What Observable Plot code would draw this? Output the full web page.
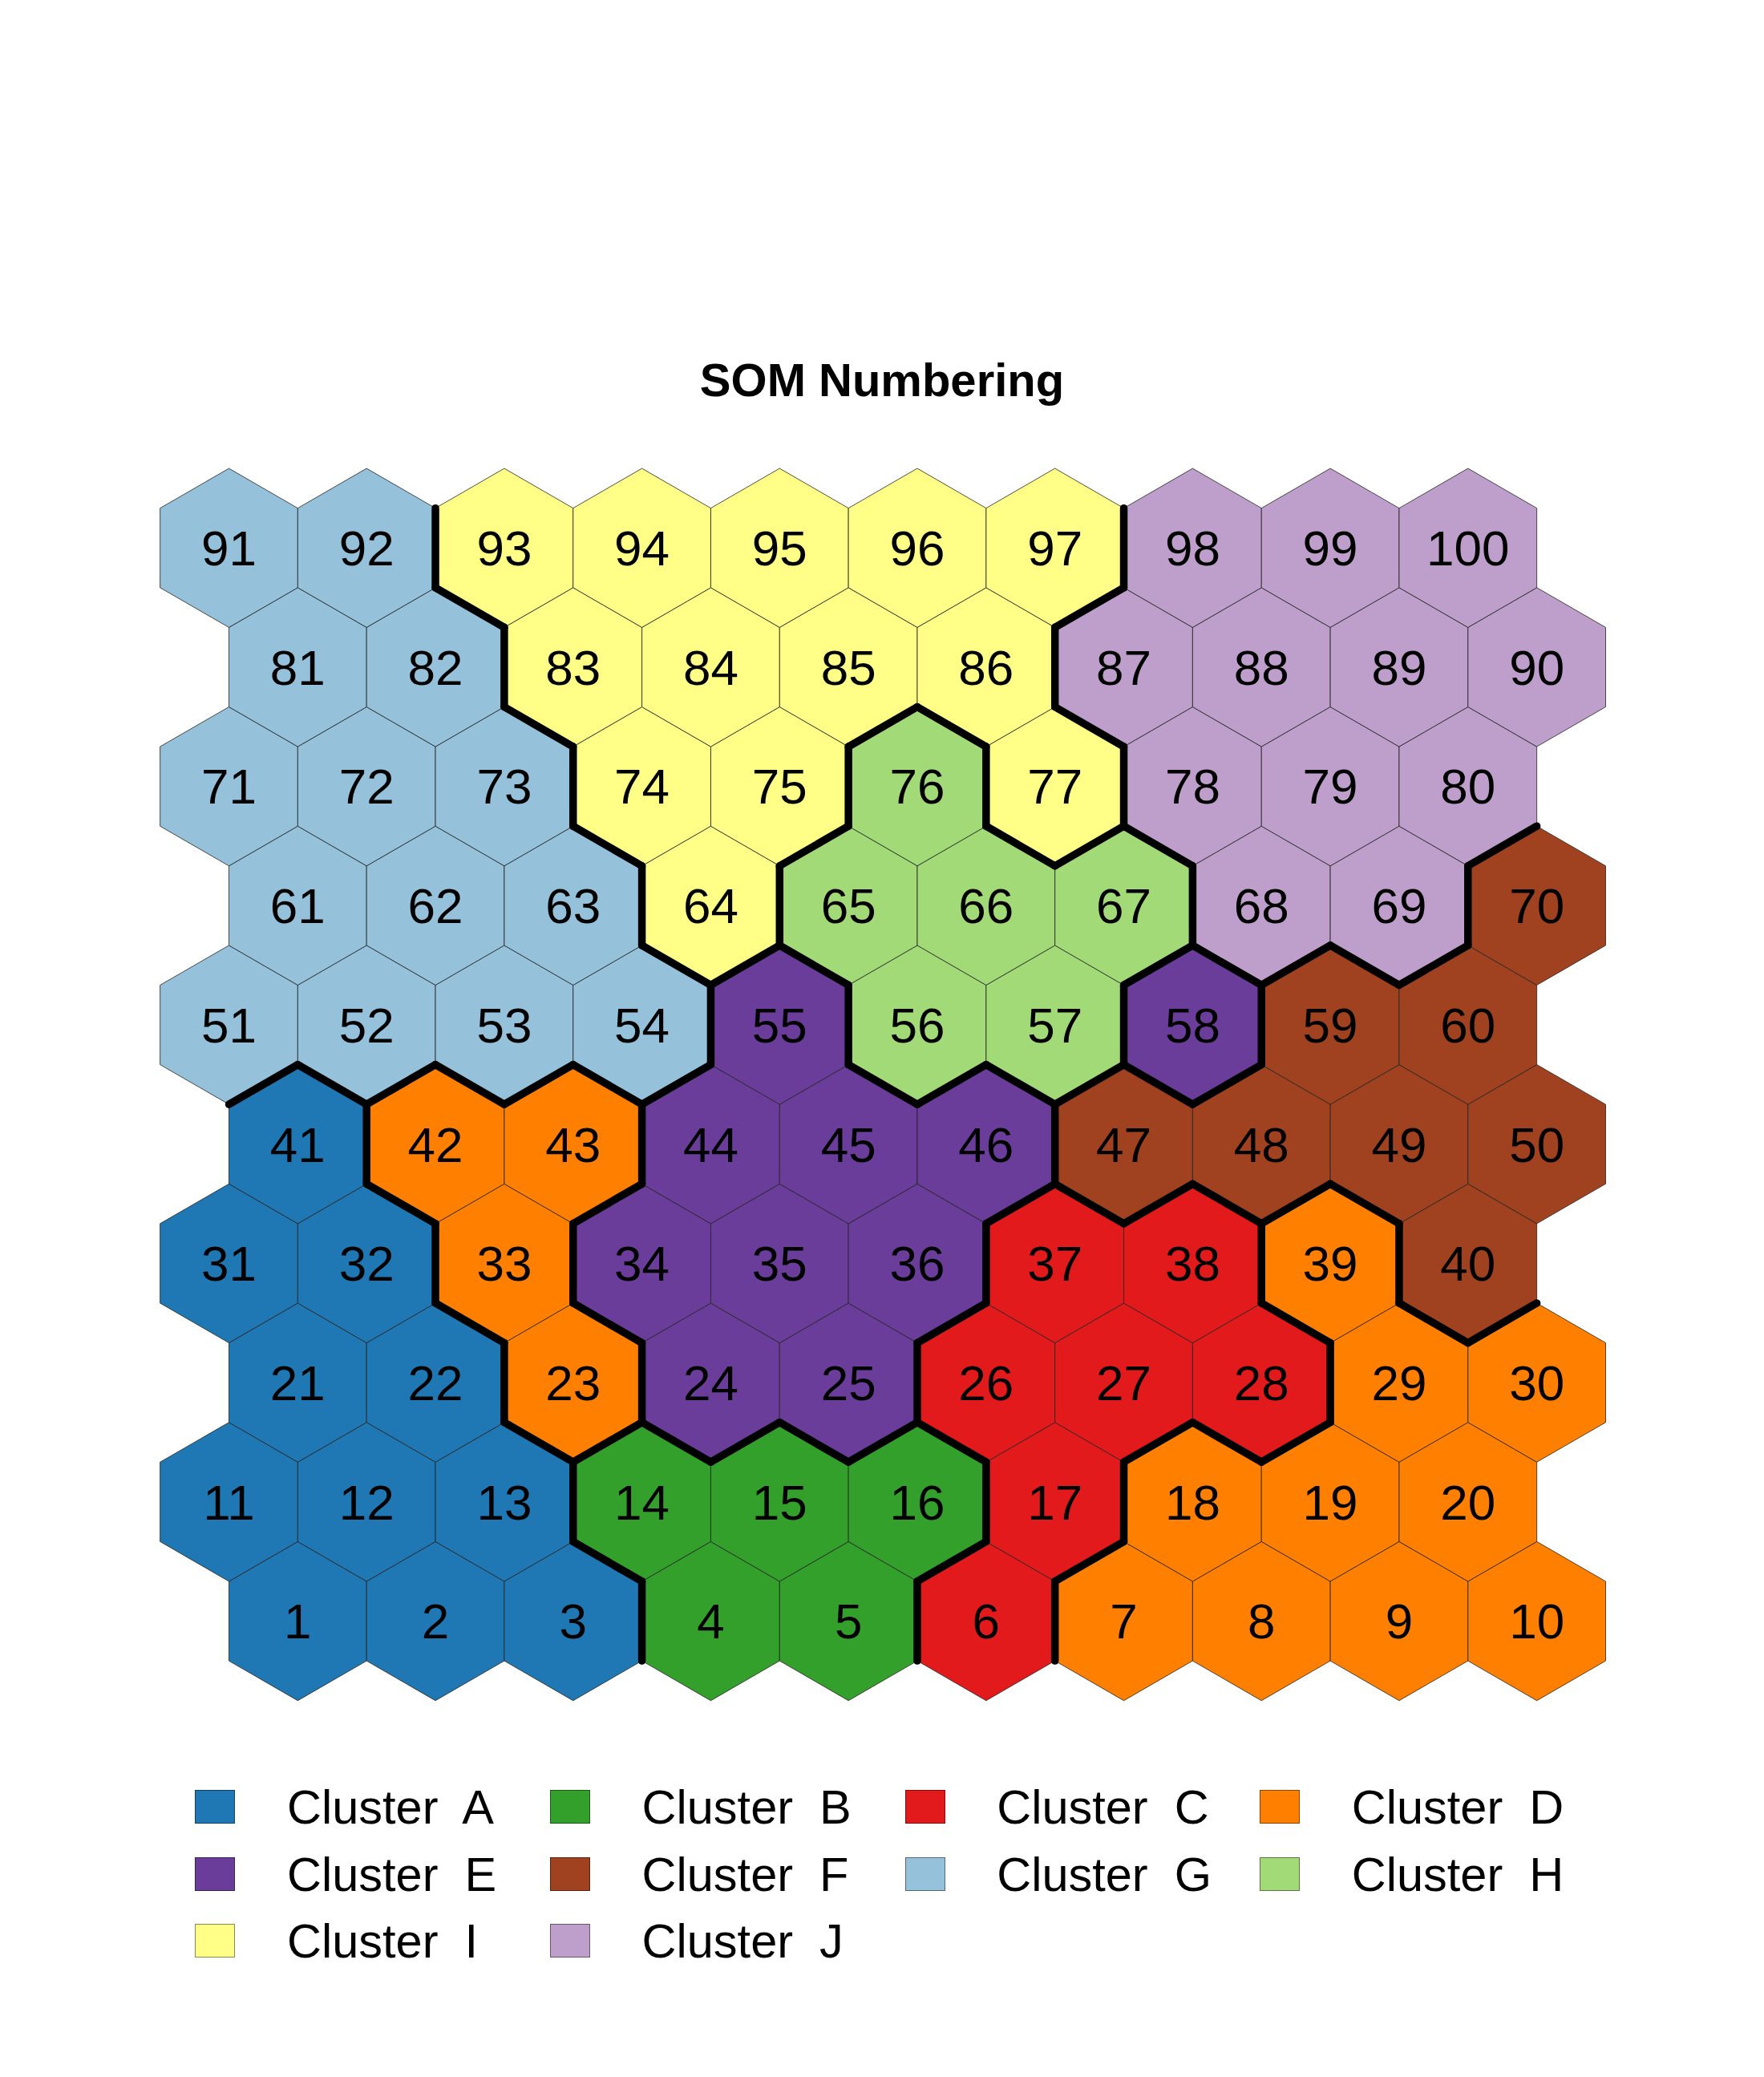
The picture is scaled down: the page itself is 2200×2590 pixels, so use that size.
<!DOCTYPE html>
<html>
<head>
<meta charset="utf-8">
<script src="https://cdn.jsdelivr.net/npm/d3@7"></script>
<script src="https://cdn.jsdelivr.net/npm/@observablehq/plot@0.6"></script>
<style>
  body { margin: 0; background: #fff; font-family: "Liberation Sans", Arial, Helvetica, sans-serif; }
  #page { width: 2200px; height: 2590px; overflow: hidden; background: #fff; }
  #title { padding-top: 445px; height: 58px; line-height: 58px; font-size: 58px; font-weight: bold; text-align: center; color: #000; }
  #chart { margin-top: 37px; height: 1620px; }
  #chart svg { display: block; }
  #legend { position: relative; height: 430px; }
  .key { position: absolute; width: 50px; height: 42px; box-sizing: border-box; border: 1px solid rgba(0,0,0,0.45); }
  .lab { position: absolute; font-size: 59.5px; line-height: 59.5px; white-space: pre; color: #000; }
</style>
</head>
<body>
<div id="page">
  <div id="title">SOM Numbering</div>
  <div id="chart"></div>
  <div id="legend"></div>
</div>
<script>
// Cluster names and colours
const clusterNames = ["A", "B", "C", "D", "E", "F", "G", "H", "I", "J"];
const clusterColors = ["#1F78B4", "#33A02C", "#E31A1C", "#FF7F00", "#6A3D9A",
                       "#A0421F", "#95C1DA", "#A3DA78", "#FFFF88", "#BE9ECB"];

// Cluster of each SOM node, node 1..100 (10 x 10 hex grid, row by row from the bottom)
const nodeCluster = [
  "A","A","A","B","B","C","D","D","D","D",   // 1-10
  "A","A","A","B","B","B","C","D","D","D",   // 11-20
  "A","A","D","E","E","C","C","C","D","D",   // 21-30
  "A","A","D","E","E","E","C","C","D","F",   // 31-40
  "A","D","D","E","E","E","F","F","F","F",   // 41-50
  "G","G","G","G","E","H","H","E","F","F",   // 51-60
  "G","G","G","I","H","H","H","J","J","F",   // 61-70
  "G","G","G","I","I","H","I","J","J","J",   // 71-80
  "G","G","I","I","I","I","J","J","J","J",   // 81-90
  "G","G","I","I","I","I","I","J","J","J"    // 91-100
];
const gridCols = 10;

// Build node table on hex grid (pointy-top; even rows shifted half a cell)
const nodes = nodeCluster.map((k, i) => {
  const r = Math.floor(i / gridCols), c = i % gridCols;
  return { id: i + 1, x: c + (r % 2 === 0 ? 0.5 : 0), y: r, cluster: k };
});
const key = (x, y) => x + "," + y;
const byPos = new Map(nodes.map(n => [key(n.x, n.y), n]));

// Hex geometry in data units (1 x-unit = cell width, 1 y-unit = row step)
const dirs = [
  { dx: 1,    dy: 0, a: [0.5, 1/3],  b: [0.5, -1/3] },
  { dx: 0.5,  dy: 1, a: [0, 2/3],    b: [0.5, 1/3] },
  { dx: -0.5, dy: 1, a: [0, 2/3],    b: [-0.5, 1/3] }
];
const borders = [];
for (const n of nodes) {
  for (const d of dirs) {
    const m = byPos.get(key(n.x + d.dx, n.y + d.dy));
    if (m && m.cluster !== n.cluster) {
      borders.push({ x1: n.x + d.a[0], y1: n.y + d.a[1], x2: n.x + d.b[0], y2: n.y + d.b[1] });
    }
  }
}

const cell = 171.7;                 // cell width in px
const rowStep = cell * Math.sqrt(3) / 2;
const x0 = 285, yBottom = 1481;

const plot = Plot.plot({
  width: 2200,
  height: 1620,
  margin: 0,
  style: { fontFamily: "Liberation Sans, Arial, Helvetica, sans-serif", background: "white" },
  x: { domain: [0, 9.5], range: [x0, x0 + 9.5 * cell], axis: null },
  y: { domain: [0, 9], range: [yBottom, yBottom - 9 * rowStep], axis: null },
  color: { domain: clusterNames, range: clusterColors },
  marks: [
    Plot.dot(nodes, { x: "x", y: "y", symbol: "hexagon", r: cell / 2, fill: "cluster",
                      stroke: "#222", strokeWidth: 0.8 }),
    Plot.link(borders, { x1: "x1", y1: "y1", x2: "x2", y2: "y2", stroke: "#000",
                         strokeWidth: 9.5, strokeLinecap: "round" }),
    Plot.text(nodes, { x: "x", y: "y", text: "id", fontSize: 62, fill: "#000", dy: 2 })
  ]
});
document.getElementById("chart").appendChild(plot);

// Legend (4 columns)
const legend = document.getElementById("legend");
clusterNames.forEach((k, i) => {
  const col = i % 4, row = Math.floor(i / 4);
  const cy = 93.3 + row * 83.4;
  const sq = document.createElement("div");
  sq.className = "key";
  sq.style.left = (243.4 + col * 442.6) + "px";
  sq.style.top = (cy - 21) + "px";
  sq.style.background = clusterColors[i];
  legend.appendChild(sq);
  const lab = document.createElement("div");
  lab.className = "lab";
  lab.style.left = (358 + col * 442.6) + "px";
  lab.style.top = (cy - 29) + "px";
  lab.textContent = "Cluster  " + k;
  legend.appendChild(lab);
});
</script>
</body>
</html>
